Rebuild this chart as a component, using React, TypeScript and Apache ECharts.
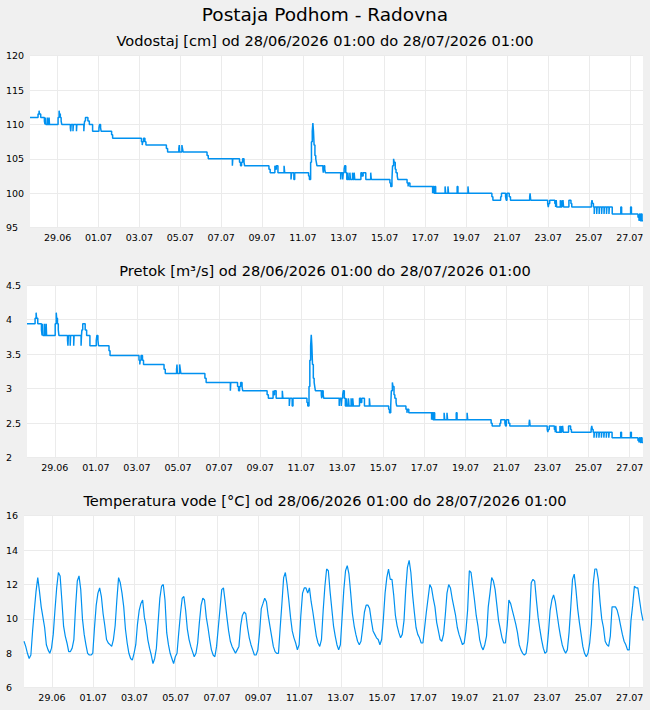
import React, { useEffect, useRef } from "react";
import * as echarts from "echarts";

const chartTitle = "Postaja Podhom - Radovna";
const panelTitles = [
  "Vodostaj [cm] od 28/06/2026 01:00 do 28/07/2026 01:00",
  "Pretok [m³/s] od 28/06/2026 01:00 do 28/07/2026 01:00",
  "Temperatura vode [°C] od 28/06/2026 01:00 do 28/07/2026 01:00",
];

// x axis: days counted from 29.06 00:00
const xMin = -1.354;
const xMax = 28.646;
const xTickDays = [0, 2, 4, 6, 8, 10, 12, 14, 16, 18, 20, 22, 24, 26, 28];
const xTickLabels = [
  "29.06", "01.07", "03.07", "05.07", "07.07", "09.07", "11.07", "13.07",
  "15.07", "17.07", "19.07", "21.07", "23.07", "25.07", "27.07",
];

// change points shared by level & flow (days)
const stepDays = [
  -1.354, -0.96, -0.91, -0.89, -0.83, -0.65, -0.62, -0.6, -0.58, -0.5,
  -0.48, -0.42, -0.4, 0.02, 0.07, 0.09, 0.13, 0.17, 0.2, 0.62,
  0.64, 0.66, 0.75, 0.77, 0.92, 0.94, 1.28, 1.3, 1.32, 1.36,
  1.48, 1.55, 1.71, 2.02, 2.05, 2.1, 2.13, 2.64, 2.69, 4.1,
  4.14, 4.16, 4.2, 4.27, 4.32, 5.32, 5.38, 5.93, 5.95, 5.97,
  6.08, 6.11, 6.14, 7.31, 7.37, 8.55, 8.57, 8.9, 8.95, 9.0,
  9.05, 9.12, 9.15, 10.34, 10.4, 10.63, 10.66, 10.7, 10.78, 11.08,
  11.11, 11.42, 11.45, 11.56, 11.6, 12.28, 12.32, 12.38, 12.42, 12.46,
  12.49, 12.52, 12.55, 12.59, 12.63, 12.66, 12.69, 12.98, 13.0, 13.03,
  13.07, 13.1, 13.85, 13.88, 13.95, 13.98, 14.02, 14.05, 14.1, 14.15,
  14.2, 14.23, 14.3, 14.33, 14.43, 14.46, 14.51, 14.54, 14.84, 14.9,
  14.95, 15.08, 15.32, 15.35, 16.26, 16.3, 16.36, 16.39, 16.44, 16.47,
  16.52, 16.56, 16.62, 16.65, 17.1, 17.15, 17.17, 17.24, 18.35, 18.38,
  18.42, 18.46, 18.5, 18.96, 18.99, 19.1, 19.13, 19.55, 19.59, 20.08,
  20.11, 21.25, 21.3, 21.68, 21.72, 21.92, 21.95, 21.99, 22.1, 22.16,
  23.1, 23.12, 23.15, 23.98, 24.01, 24.04, 24.08, 24.33, 24.37, 24.4,
  24.42, 24.6, 24.63, 24.68, 24.7, 24.73, 24.76, 25.02, 25.12, 25.16,
  26.12, 26.15, 26.18, 26.22, 26.26, 26.28, 26.38, 26.4, 26.5, 26.52,
  26.62, 26.64, 26.74, 26.76, 26.86, 26.88, 26.98, 27.0, 27.14, 27.56,
  27.6, 28.04, 28.08, 28.4, 28.45, 28.48, 28.52, 28.56, 28.6, 28.646,
];

const levelValues = [
  111, 111.5, 112, 111.5, 111, 110.5, 110, 111, 110, 111,
  110, 111, 110, 111, 112, 111.5, 111, 110.5, 110, 109.5,
  109, 110, 109, 110, 109, 110, 109, 110, 110.5, 111,
  110.5, 110, 109, 109.5, 110, 109.5, 109, 108.5, 108, 107.5,
  107, 107.5, 108, 107.5, 107, 106.5, 106, 106.5, 107, 106,
  107, 106.5, 106, 105.5, 105, 104, 105, 104.5, 104, 104.5,
  105, 104.5, 104, 103.5, 103, 104, 103.5, 104, 103, 104,
  103, 102, 103, 102, 103, 102.5, 102, 104.5, 107.5, 109,
  110.2, 109, 107, 105.5, 105, 104.5, 104, 103.5, 103, 104,
  103.5, 103, 102, 103, 102, 103, 103.5, 104, 103, 102,
  103, 102, 103, 102, 103, 102, 103, 102, 103, 102.5,
  103, 102, 103, 102, 101.5, 101, 102, 104, 105, 104.5,
  103.5, 103, 102.5, 102, 101.5, 101, 101.5, 101, 100, 101,
  100, 101, 100, 101, 100, 101, 100, 101, 100, 101,
  100, 99.5, 99, 99.5, 100, 99.5, 99, 100, 99.5, 99,
  99.5, 100, 99, 98.5, 98, 98.5, 99, 98.5, 98, 99,
  98, 99, 98, 99, 98, 99, 98, 99, 98.5, 98,
  98.5, 99, 98.5, 98, 97, 98, 97, 98, 97, 98,
  97, 98, 97, 98, 97, 98, 97, 98, 97, 98,
  97, 98, 97, 96.5, 96, 97, 96, 97, 96, 96,
];

const flowValues = [
  3.94, 4.02, 4.1, 4.02, 3.94, 3.85, 3.77, 3.94, 3.77, 3.94,
  3.77, 3.94, 3.77, 3.94, 4.1, 4.02, 3.94, 3.85, 3.77, 3.7,
  3.62, 3.77, 3.62, 3.77, 3.62, 3.77, 3.62, 3.77, 3.85, 3.94,
  3.85, 3.77, 3.62, 3.7, 3.77, 3.7, 3.62, 3.55, 3.48, 3.41,
  3.35, 3.41, 3.48, 3.41, 3.35, 3.28, 3.22, 3.28, 3.35, 3.22,
  3.35, 3.28, 3.22, 3.15, 3.09, 2.97, 3.09, 3.03, 2.97, 3.03,
  3.09, 3.03, 2.97, 2.91, 2.86, 2.97, 2.91, 2.97, 2.86, 2.97,
  2.86, 2.75, 2.86, 2.75, 2.86, 2.8, 2.75, 3.03, 3.41, 3.62,
  3.78, 3.62, 3.35, 3.15, 3.09, 3.03, 2.97, 2.91, 2.86, 2.97,
  2.91, 2.86, 2.75, 2.86, 2.75, 2.86, 2.91, 2.97, 2.86, 2.75,
  2.86, 2.75, 2.86, 2.75, 2.86, 2.75, 2.86, 2.75, 2.86, 2.8,
  2.86, 2.75, 2.86, 2.75, 2.7, 2.65, 2.75, 2.97, 3.09, 3.03,
  2.91, 2.86, 2.8, 2.75, 2.7, 2.65, 2.7, 2.65, 2.55, 2.65,
  2.55, 2.65, 2.55, 2.65, 2.55, 2.65, 2.55, 2.65, 2.55, 2.65,
  2.55, 2.5, 2.46, 2.5, 2.55, 2.5, 2.46, 2.55, 2.5, 2.46,
  2.5, 2.55, 2.46, 2.41, 2.37, 2.41, 2.46, 2.41, 2.37, 2.46,
  2.37, 2.46, 2.37, 2.46, 2.37, 2.46, 2.37, 2.46, 2.41, 2.37,
  2.41, 2.46, 2.41, 2.37, 2.29, 2.37, 2.29, 2.37, 2.29, 2.37,
  2.29, 2.37, 2.29, 2.37, 2.29, 2.37, 2.29, 2.37, 2.29, 2.37,
  2.29, 2.37, 2.29, 2.25, 2.22, 2.29, 2.22, 2.29, 2.22, 2.22,
];

// temperature: one reading every 2 hours from the left edge
const tempStartDay = -1.354;
const tempStepHours = 2;
const tempValues = [
  8.7, 8.4, 8.0, 7.7, 7.9, 9.3, 10.5, 11.6, 12.4, 11.6,
  10.7, 10.1, 9.5, 8.5, 8.2, 8.0, 8.3, 9.1, 10.5, 11.8,
  12.7, 12.5, 11.1, 9.6, 9.0, 8.6, 8.1, 8.1, 8.3, 8.8,
  10.7, 12.2, 12.5, 11.7, 10.0, 9.1, 8.5, 8.0, 7.9, 7.9,
  8.0, 9.5, 10.8, 11.5, 11.8, 11.3, 10.3, 9.6, 8.8, 8.6,
  8.5, 8.4, 8.8, 9.6, 11.1, 12.4, 12.1, 11.5, 10.7, 9.4,
  8.6, 8.0, 7.7, 7.6, 8.0, 8.5, 9.7, 10.5, 10.9, 11.1,
  10.1, 9.6, 8.8, 8.3, 7.9, 7.4, 7.7, 8.3, 9.8, 11.2,
  11.9, 12.0, 11.1, 9.2, 8.5, 8.0, 7.7, 7.4, 7.8, 8.0,
  9.2, 10.3, 11.2, 11.3, 10.5, 9.4, 8.8, 8.4, 8.1, 7.8,
  8.0, 8.6, 9.8, 10.8, 11.2, 11.1, 10.1, 9.5, 8.8, 8.2,
  7.9, 7.8, 8.4, 9.5, 10.6, 11.7, 11.8, 11.0, 10.1, 9.3,
  8.7, 8.4, 8.2, 8.0, 8.2, 8.4, 9.6, 10.2, 10.4, 10.3,
  9.5, 8.9, 8.5, 8.2, 7.9, 7.9, 8.2, 9.2, 10.6, 10.9,
  11.2, 11.0, 10.2, 9.6, 9.0, 8.4, 8.1, 8.0, 8.0, 9.5,
  10.9, 12.4, 12.7, 12.0, 11.1, 10.1, 9.3, 8.9, 8.6, 8.2,
  8.5, 10.2, 11.5, 11.8, 11.8, 11.5, 11.8, 11.0, 10.4, 9.7,
  9.0, 8.6, 8.4, 8.8, 10.5, 11.9, 12.9, 12.8, 11.6, 10.6,
  9.6, 9.0, 8.5, 8.2, 8.5, 10.1, 11.7, 12.8, 13.1, 12.6,
  11.5, 10.3, 9.6, 9.1, 8.7, 8.5, 8.7, 9.5, 10.4, 10.8,
  10.8, 10.6, 9.9, 9.3, 9.1, 8.9, 8.8, 8.5, 8.8, 10.0,
  11.5, 12.4, 12.9, 12.3, 12.3, 11.4, 10.2, 9.6, 9.2, 8.9,
  9.1, 9.9, 11.7, 13.0, 13.4, 12.7, 11.4, 10.4, 9.5, 9.1,
  8.9, 8.6, 8.6, 9.5, 10.4, 11.2, 12.0, 11.8, 11.2, 10.7,
  9.8, 9.3, 8.8, 8.7, 9.1, 10.2, 11.5, 12.0, 11.8, 11.2,
  10.7, 10.2, 9.5, 9.1, 8.8, 8.5, 8.6, 9.3, 10.5, 12.8,
  12.7, 11.9, 11.1, 10.2, 9.6, 8.8, 8.4, 8.2, 8.5, 9.0,
  10.7, 11.5, 12.4, 12.2, 11.7, 10.8, 9.9, 9.4, 8.9, 8.6,
  8.6, 9.6, 11.1, 10.9, 10.5, 10.1, 9.7, 9.2, 8.5, 8.2,
  8.0, 7.9, 8.0, 8.7, 10.0, 12.1, 12.3, 12.2, 11.1, 10.1,
  9.4, 8.8, 8.3, 8.0, 8.1, 9.2, 10.5, 11.1, 11.4, 11.0,
  10.3, 9.6, 9.0, 8.5, 8.2, 8.0, 8.2, 9.2, 10.7, 12.3,
  12.6, 11.7, 10.6, 9.8, 9.1, 8.4, 8.0, 7.8, 8.0, 8.6,
  9.7, 12.0, 12.9, 12.9, 12.3, 11.0, 10.0, 9.5, 8.7, 8.5,
  8.4, 9.0, 10.7, 10.7, 10.7, 10.5, 10.1, 9.6, 9.1, 8.7,
  8.5, 8.2, 8.2, 9.9, 10.8, 11.9, 11.8, 11.8, 11.1, 10.4,
  9.9,
];

const yRanges = [
  { min: 95, max: 120, interval: 5 },
  { min: 2, max: 4.5, interval: 0.5 },
  { min: 6, max: 16, interval: 2 },
];

const lineColor = "#0091f0";
const gridColor = "#ebebeb";
const font = "DejaVu Sans";

export default function App() {
  const ref = useRef<HTMLDivElement>(null);

  useEffect(() => {
    document.body.style.margin = "0";
    if (!ref.current) return;
    const chart = echarts.init(ref.current, null, { renderer: "svg" });

    const levelData = stepDays.map((d, i) => [d, levelValues[i]]);
    const flowData = stepDays.map((d, i) => [d, flowValues[i]]);
    const tempData = tempValues.map((v, i) => [
      tempStartDay + (i * tempStepHours) / 24,
      v,
    ]);

    const grids = [
      { left: 30, right: 7, top: 55.6, height: 172.1 },
      { left: 27, right: 7, top: 285, height: 172.7 },
      { left: 24, right: 7, top: 515.7, height: 172 },
    ];

    const tickLabel = (v: number) => {
      let best = 0;
      for (let k = 0; k < xTickDays.length; k++) {
        if (Math.abs(xTickDays[k] - v) < Math.abs(xTickDays[best] - v)) best = k;
      }
      return xTickLabels[best];
    };

    const xAxes = grids.map((g, i) => ({
      type: "value",
      gridIndex: i,
      min: xMin,
      max: xMax,
      axisLine: { show: false },
      axisTick: { show: false, customValues: xTickDays },
      axisLabel: {
        customValues: xTickDays,
        formatter: tickLabel,
        fontSize: 9.5,
        fontFamily: font,
        color: "#000",
        margin: 5,
      },
      splitLine: { show: true, lineStyle: { color: gridColor, width: 1 } },
    }));

    const yAxes = grids.map((g, i) => ({
      type: "value",
      gridIndex: i,
      min: yRanges[i].min,
      max: yRanges[i].max,
      interval: yRanges[i].interval,
      axisLine: { show: false },
      axisTick: { show: false },
      axisLabel: {
        align: "left",
        margin: g.left - 6,
        fontSize: 9.5,
        fontFamily: font,
        color: "#000",
      },
      splitLine: { show: true, lineStyle: { color: gridColor, width: 1 } },
    }));

    const titleText = (text: string, y: number, size: number) => ({
      type: "text",
      x: 325,
      y,
      style: {
        text,
        fontSize: size,
        fontFamily: font,
        fill: "#000",
        align: "center",
        verticalAlign: "middle",
      },
    });

    chart.setOption({
      animation: false,
      backgroundColor: "#f0f0f0",
      grid: grids.map((g) => ({ ...g, backgroundColor: "#fff", show: true, borderWidth: 0 })),
      xAxis: xAxes,
      yAxis: yAxes,
      graphic: [
        titleText(chartTitle, 14, 18.5),
        titleText(panelTitles[0], 40, 14.6),
        titleText(panelTitles[1], 270, 14.6),
        titleText(panelTitles[2], 500, 14.6),
      ],
      series: [
        {
          type: "line",
          xAxisIndex: 0,
          yAxisIndex: 0,
          data: levelData,
          step: "end",
          showSymbol: false,
          lineStyle: { color: lineColor, width: 1.5 },
        },
        {
          type: "line",
          xAxisIndex: 1,
          yAxisIndex: 1,
          data: flowData,
          step: "end",
          showSymbol: false,
          lineStyle: { color: lineColor, width: 1.5 },
        },
        {
          type: "line",
          xAxisIndex: 2,
          yAxisIndex: 2,
          data: tempData,
          showSymbol: false,
          lineStyle: { color: lineColor, width: 1.2 },
        },
      ],
    });

    return () => chart.dispose();
  }, []);

  return <div ref={ref} style={{ width: 650, height: 710 }} />;
}
